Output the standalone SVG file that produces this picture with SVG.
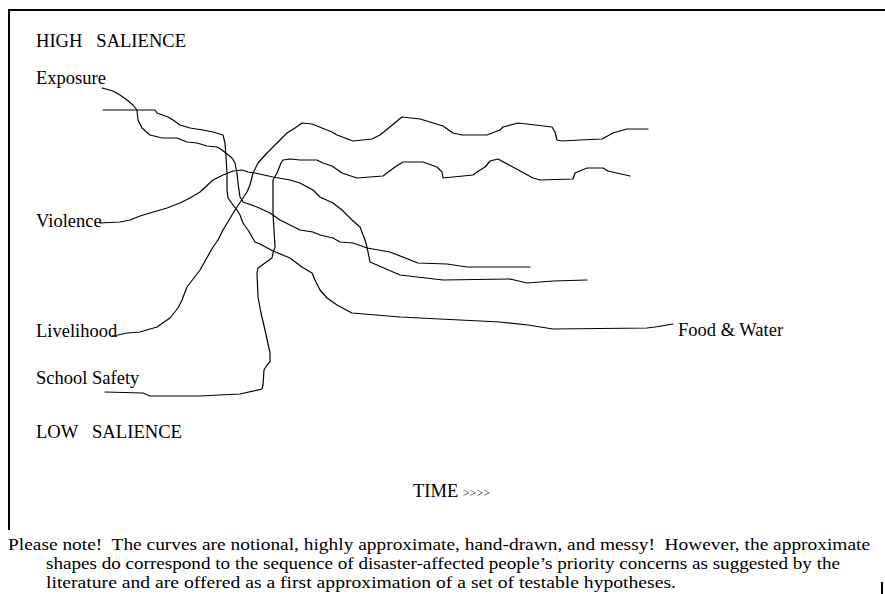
<svg xmlns="http://www.w3.org/2000/svg" width="885" height="594" viewBox="0 0 885 594">
<style>
text{font-family:"Liberation Serif","Times New Roman",serif;fill:#000}
.lbl{font-size:18.5px}
.note{font-size:16.5px}
.c{fill:none;stroke:#000;stroke-width:1.2;stroke-linejoin:round;stroke-linecap:round}
.b{stroke:#000;stroke-width:2}
</style>
<rect width="885" height="594" fill="#fff"/>
<g id="frame">
<line class="b" x1="8" y1="10" x2="885" y2="10"/>
<line class="b" x1="9" y1="9" x2="9" y2="530"/>
<line class="b" x1="882" y1="582" x2="882" y2="594"/>
</g>
<g id="axis-labels">
<text class="lbl" x="36" y="47" textLength="150" lengthAdjust="spacingAndGlyphs" xml:space="preserve">HIGH   SALIENCE</text>
<text class="lbl" x="36" y="438" textLength="146" lengthAdjust="spacingAndGlyphs" xml:space="preserve">LOW   SALIENCE</text>
<text class="lbl" x="413" y="497" font-size="16.5">TIME <tspan font-size="12">&gt;&gt;&gt;&gt;</tspan></text>
</g>
<g id="connectors">
<polyline id="curve-exposure" class="c" points="102,88 113,91 120,95 127,100 133,105 137,110 138,120 142,128 150,135 162,138 177,138 187,142 197,143 207,146 217,147 222,150 227,154 232,158 235,163 237,173 238,183 240,197 243,202 257,207 270,213 280,220 300,230 313,232 320,235 333,238 340,242 353,243 367,248 390,252 418,263 447,264 467,267 530,267"/>
<polyline id="curve-food" class="c" points="103,110 155,110 157,113 168,117 173,120 180,125 190,128 203,130 213,132 223,135 225,143 226,157 227,173 227,190 228,198 233,205 237,210 240,215 243,223 248,230 255,242 260,244 273,251 290,258 302,267 312,273 315,280 320,290 327,298 337,305 352,313 400,317 500,322 528,325 553,329 647,328 655,327 673,324"/>
<polyline id="curve-violence" class="c" points="100,223 120,222 130,220 140,216 150,213 167,208 180,203 190,198 200,192 213,180 223,175 233,171 242,170 248,172 255,173 273,177 290,180 300,183 313,190 320,197 333,203 342,210 352,220 360,227 365,240 367,247 370,262 377,265 400,275 417,277 443,280 510,279 527,283 553,281 587,280"/>
<polyline id="curve-livelihood" class="c" points="112,336 118,335 127,333 140,332 157,327 170,318 178,308 182,300 187,287 200,270 213,247 218,240 223,230 235,210 243,198 247,192 250,185 253,173 258,163 267,153 277,143 287,133 295,128 302,123 312,124 332,132 337,135 353,141 372,139 380,135 402,117 420,119 430,122 443,126 453,133 462,135 487,135 500,130 503,127 518,123 552,127 555,132 557,140 562,141 580,140 602,139 613,133 627,129 648,129"/>
<polyline id="curve-school" class="c" points="105,392 143,393 150,396 200,396 240,394 262,389 263,385 264,370 267,365 270,362 270,353 265,330 261,313 258,297 257,273 258,268 265,263 272,258 273,253 275,247 274,230 273,213 273,180 277,173 279,168 281,163 283,160 290,159 300,160 317,160 323,163 332,166 342,173 357,178 383,176 395,167 403,162 423,162 437,167 442,172 443,178 473,175 477,172 485,167 490,161 498,159 533,178 540,180 573,179 575,173 587,168 603,168 608,171 630,176"/>
</g>
<g id="node-exposure"><text class="lbl" x="36" y="84">Exposure</text></g>
<g id="node-violence"><text class="lbl" x="36" y="227">Violence</text></g>
<g id="node-livelihood"><text class="lbl" x="36" y="337">Livelihood</text></g>
<g id="node-school"><text class="lbl" x="36" y="384">School Safety</text></g>
<g id="node-food"><text class="lbl" x="678" y="336">Food &amp; Water</text></g>
<g id="note">
<text class="note" x="8" y="550" textLength="862" lengthAdjust="spacingAndGlyphs" xml:space="preserve">Please note!  The curves are notional, highly approximate, hand-drawn, and messy!  However, the approximate</text>
<text class="note" x="46" y="569" textLength="794" lengthAdjust="spacingAndGlyphs">shapes do correspond to the sequence of disaster-affected people’s priority concerns as suggested by the</text>
<text class="note" x="46" y="588" textLength="630" lengthAdjust="spacingAndGlyphs">literature and are offered as a first approximation of a set of testable hypotheses.</text>
</g>
</svg>
